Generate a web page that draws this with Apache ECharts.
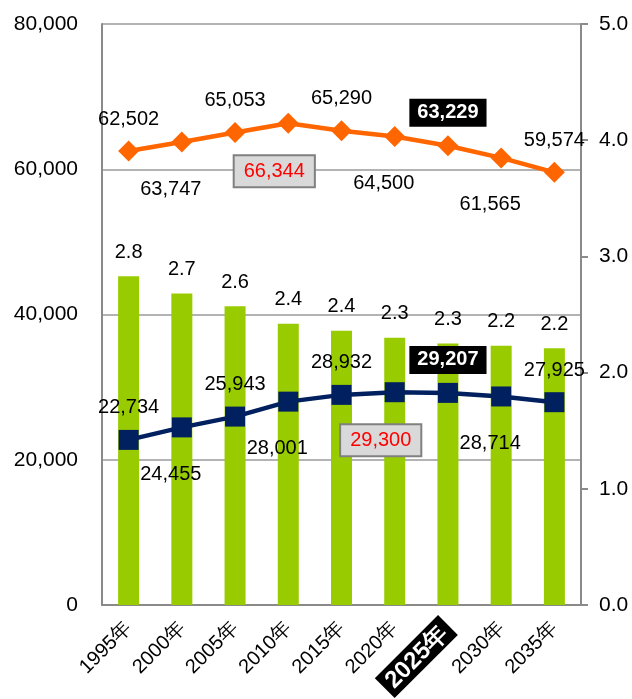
<!DOCTYPE html>
<html>
<head>
<meta charset="utf-8">
<script src="https://cdn.jsdelivr.net/npm/echarts@6/dist/echarts.min.js"></script>
<style>
html,body{margin:0;padding:0;background:#fff;}
#main{width:632px;height:699px;}
</style>
</head>
<body>
<div id="main"></div>
<script>
const categories = ['1995年','2000年','2005年','2010年','2015年','2020年','2025年','2030年','2035年'];
const householdSize = [2.83, 2.68, 2.57, 2.42, 2.36, 2.30, 2.25, 2.23, 2.21];
const population = [62502, 63747, 65053, 66344, 65290, 64500, 63229, 61565, 59574];
const households = [22734, 24455, 25943, 28001, 28932, 29300, 29207, 28714, 27925];
const popLabelSide = ['up','down','up','redbox','up','down','blackbox','down','up'];
const hhLabelSide = ['up','down','up','down','up','redbox','blackbox','down','up'];

const FONT = '"Liberation Sans", Arial, sans-serif';
const fmt = v => Number(v).toLocaleString('en-US');

function labelFor(side) {
  const base = {show: true, position: 'inside', fontFamily: FONT, fontSize: 20, color: '#000',
    formatter: p => fmt(p.value)};
  if (side === 'up') return Object.assign(base, {offset: [0, -32]});
  if (side === 'down') return Object.assign(base, {offset: [-11, 47]});
  if (side === 'redbox') return Object.assign(base, {offset: [-14, 48], color: '#FF0000',
    backgroundColor: '#D9D9D9', borderColor: '#808080', borderWidth: 2, padding: [5, 9]});
  return Object.assign(base, {offset: [0, -33], color: '#fff', fontWeight: 'bold',
    backgroundColor: '#000', padding: [4, 8]});
}

function lineData(values, sides) {
  return values.map((v, i) => ({value: v, label: labelFor(sides[i])}));
}

const chart = echarts.init(document.getElementById('main'), null, {renderer: 'canvas'});
chart.setOption({
  animation: false,
  textStyle: {fontFamily: FONT},
  grid: {left: 102, right: 51, top: 24, bottom: 94, containLabel: false, outerBoundsMode: 'none'},
  xAxis: {
    type: 'category',
    data: categories,
    axisLine: {lineStyle: {color: '#8a8a8a', width: 2}},
    axisTick: {show: false},
    axisLabel: {
      rotate: 45, margin: 20, fontFamily: FONT, fontSize: 20, color: '#000', interval: 0,
      formatter: (v, i) => i === 6 ? '{hl|' + v + '}' : v,
      rich: {hl: {backgroundColor: '#000', color: '#fff', fontWeight: 'bold', fontSize: 24,
        fontFamily: FONT, padding: [3, 6, 1, 6]}}
    }
  },
  yAxis: [
    {
      type: 'value', min: 0, max: 80000, interval: 20000,
      axisLine: {show: true, lineStyle: {color: '#8a8a8a', width: 2}},
      axisTick: {show: false},
      splitLine: {lineStyle: {color: '#9a9a9a', width: 1.5}},
      axisLabel: {margin: 24, fontFamily: FONT, fontSize: 21, color: '#000',
        formatter: v => fmt(v)}
    },
    {
      type: 'value', min: 0, max: 5, interval: 1,
      axisLine: {show: true, lineStyle: {color: '#8a8a8a', width: 2}},
      axisTick: {show: true, length: 7, lineStyle: {color: '#8a8a8a', width: 2}},
      splitLine: {show: false},
      axisLabel: {margin: 18, fontFamily: FONT, fontSize: 21, color: '#000',
        formatter: v => v.toFixed(1)}
    }
  ],
  series: [
    {
      type: 'bar', yAxisIndex: 1, data: householdSize, barWidth: 21,
      itemStyle: {color: '#99CC00'},
      label: {show: true, position: 'top', distance: 14, fontFamily: FONT, fontSize: 20,
        color: '#000', formatter: p => p.value.toFixed(1)},
      z: 1
    },
    {
      type: 'line', yAxisIndex: 0, data: lineData(population, popLabelSide),
      symbol: 'diamond', symbolSize: 21,
      lineStyle: {color: '#FF6600', width: 4.5},
      itemStyle: {color: '#FF6600'},
      z: 3
    },
    {
      type: 'line', yAxisIndex: 0, data: lineData(households, hhLabelSide),
      symbol: 'rect', symbolSize: 20,
      lineStyle: {color: '#002060', width: 4.5},
      itemStyle: {color: '#002060'},
      z: 4
    }
  ]
});
</script>
</body>
</html>
